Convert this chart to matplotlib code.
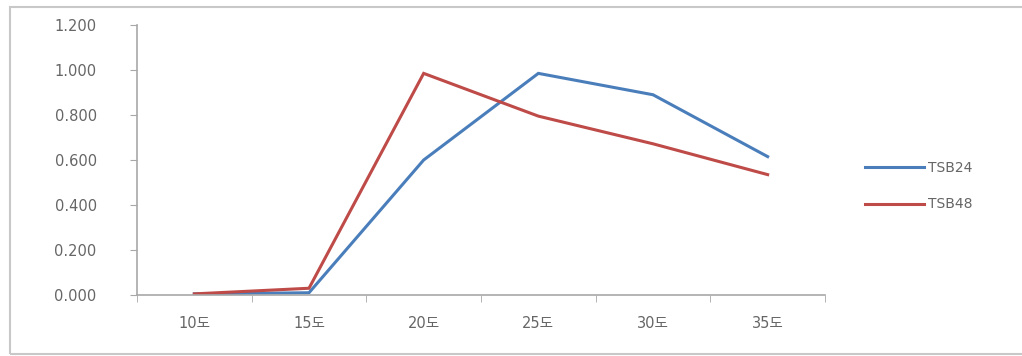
import matplotlib
matplotlib.use("Agg")
import matplotlib.pyplot as plt
from matplotlib.patches import Rectangle
from matplotlib.ticker import FixedLocator, FuncFormatter

plt.rcParams['font.family'] = ['DejaVu Sans', 'Noto Sans CJK KR']

categories = ["10도", "15도", "20도", "25도", "30도", "35도"]
tsb24 = [0.005, 0.010, 0.600, 0.985, 0.890, 0.615]
tsb48 = [0.005, 0.030, 0.985, 0.795, 0.672, 0.535]
y_ticks = [0.0, 0.2, 0.4, 0.6, 0.8, 1.0, 1.2]

text_color = "#666666"

fig = plt.figure(figsize=(10.22, 3.56), dpi=100)
fig.patches.append(Rectangle((10 / 1022, 2 / 356), 1.2, 347 / 356,
                             transform=fig.transFigure, fill=False,
                             edgecolor="#c8c8c8", linewidth=1.5))

ax = fig.add_axes([137 / 1022, 1 - 295 / 356, (825 - 137) / 1022, (295 - 25) / 356])
x = list(range(len(categories)))
ax.plot(x, tsb24, color="#4a7ebb", linewidth=2.2, label="TSB24", solid_joinstyle="miter")
ax.plot(x, tsb48, color="#be4b48", linewidth=2.2, label="TSB48", solid_joinstyle="miter")

ax.set_xlim(-0.5, len(categories) - 0.5)
ax.set_ylim(0, 1.2)
ax.set_yticks(y_ticks)
ax.yaxis.set_major_formatter(FuncFormatter(lambda v, p: f"{v:.3f}"))
ax.set_xticks(x)
ax.set_xticklabels(categories)
ax.xaxis.set_minor_locator(FixedLocator([i - 0.5 for i in range(len(categories) + 1)]))

for s in ["top", "right"]:
    ax.spines[s].set_visible(False)
for s in ["left", "bottom"]:
    ax.spines[s].set_color("#a8a8a8")
    ax.spines[s].set_linewidth(1.2)

ax.tick_params(axis="x", which="major", length=0, pad=15, labelsize=10.5, colors=text_color)
ax.tick_params(axis="x", which="minor", length=5, color="#a8a8a8", direction="out")
ax.tick_params(axis="y", length=5, color="#a8a8a8", labelsize=10.5, colors=text_color, pad=24)

ax.legend(loc="center left", bbox_to_anchor=(852 / 1022, 1 - 186 / 356),
          bbox_transform=fig.transFigure, frameon=False, fontsize=10,
          labelcolor=text_color, handlelength=4.3, handletextpad=0.3,
          labelspacing=1.65)

fig.savefig("out.png", dpi=100)
